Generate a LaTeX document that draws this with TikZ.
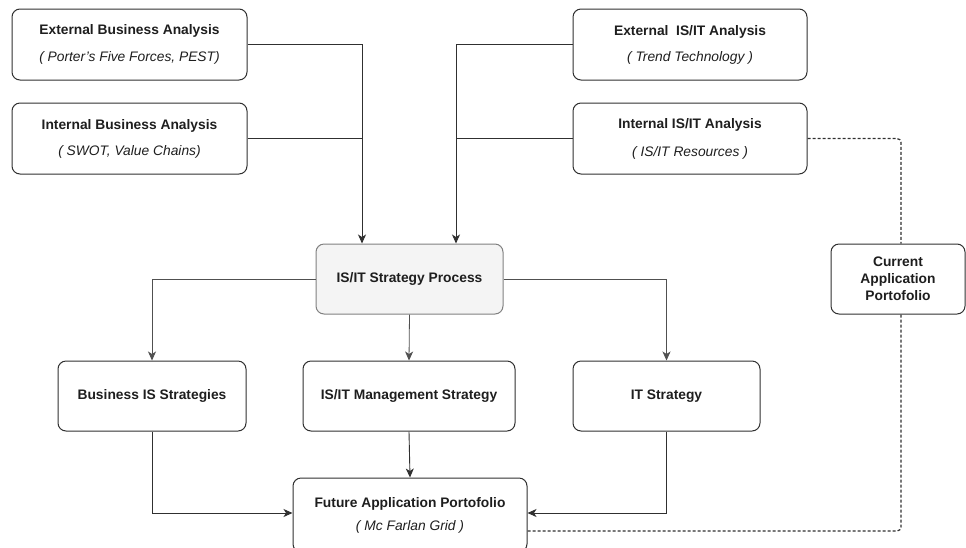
\documentclass[tikz,border=0pt]{standalone}
\usepackage{fontspec}
\setmainfont{Liberation Sans}
\usetikzlibrary{arrows.meta}
\definecolor{ink}{HTML}{1E1E1E}
\definecolor{edge}{HTML}{303030}
\definecolor{procfill}{HTML}{F4F4F4}
\definecolor{procedge}{HTML}{808080}
\definecolor{wire}{HTML}{505050}

\begin{document}
\begin{tikzpicture}[x=1pt,y=-1pt,
  box/.style={draw=edge, line width=1pt, rounded corners=8pt, minimum height=71pt,
    align=center, text=ink, inner sep=0pt, font=\fontsize{13.8}{16}\selectfont},
  procbox/.style={box, draw=procedge, fill=procfill},
  arr/.style={draw=edge, line width=0.9pt, -{Stealth[length=9pt,width=8pt,inset=2.5pt]}},
  link/.style={draw=edge, line width=0.9pt},
  soft/.style={draw=wire, line width=0.8pt, -{Stealth[length=9pt,width=8pt,inset=2.5pt]}},
  dotline/.style={draw=edge, line width=1.2pt, dash pattern=on 3pt off 2pt, rounded corners=4pt}]

\useasboundingbox (0,0) rectangle (966,547);

% analysis inputs
\node[box, minimum width=235pt] (extbus) at (129.5,44.5)
  {\textbf{External Business Analysis}\\[11pt]\textit{( Porter's Five Forces, PEST)}};
\node[box, minimum width=235pt] (intbus) at (129.5,138.5)
  {\textbf{Internal Business Analysis}\\[10pt]\textit{( SWOT, Value Chains)}};
\node[box, minimum width=234pt] (extit) at (690,44.5)
  {\textbf{External\ \ IS/IT Analysis}\\[10pt]\textit{( Trend Technology )}};
\node[box, minimum width=234pt] (intit) at (690,138.5)
  {\textbf{Internal IS/IT Analysis}\\[12pt]\textit{( IS/IT Resources )}};

% central process
\node[procbox, minimum width=187pt, minimum height=70pt] (proc) at (409.5,279)
  {\textbf{IS/IT Strategy Process}};
\node[box, minimum width=134pt, minimum height=70pt, font=\fontsize{13.8}{17}\selectfont] (curapp) at (898,279)
  {\textbf{Current}\\\textbf{Application}\\\textbf{Portofolio}};

% strategies
\node[box, minimum width=188pt, minimum height=70pt] (busis) at (152,396)
  {\textbf{Business IS Strategies}};
\node[box, minimum width=212pt, minimum height=70pt] (mgmt) at (409,396)
  {\textbf{IS/IT Management Strategy}};
\node[box, minimum width=187pt, minimum height=70pt] (its) at (666.5,396)
  {\textbf{IT Strategy}};

% outcome, its lower edge runs past the page
\node[box, minimum width=234pt, minimum height=74pt] (future) at (410,515)
  {\textbf{Future Application Portofolio}\\[7pt]\textit{( Mc Farlan Grid )}};

% entry points on the process box
\coordinate (inL) at ([xshift=-47.5pt]proc.north);
\coordinate (inR) at ([xshift=46.5pt]proc.north);

% inputs into the process
\draw[arr] (extbus.east) -| (inL);
\draw[link] (intbus.east) -- (intbus.east -| inL);
\draw[arr] (extit.west) -| (inR);
\draw[link] (intit.west) -- (intit.west -| inR);

% process to strategies
\draw[soft] (proc.west) -| (busis.north);
\draw[soft] (proc.south) -- (mgmt.north);
\draw[soft] (proc.east) -| (its.north);

% strategies to future portfolio
\draw[arr] (busis.south) |- ([yshift=2pt]future.west);
\draw[arr] (mgmt.south) -- (future.north);
\draw[arr] (its.south) |- ([yshift=2pt]future.east);

% current portfolio path
\draw[dotline] (intit.east) -| ([xshift=3pt]curapp.north);
\draw[dotline] ([xshift=3pt]curapp.south) |- ([yshift=-16pt]future.east);

\end{tikzpicture}
\end{document}
